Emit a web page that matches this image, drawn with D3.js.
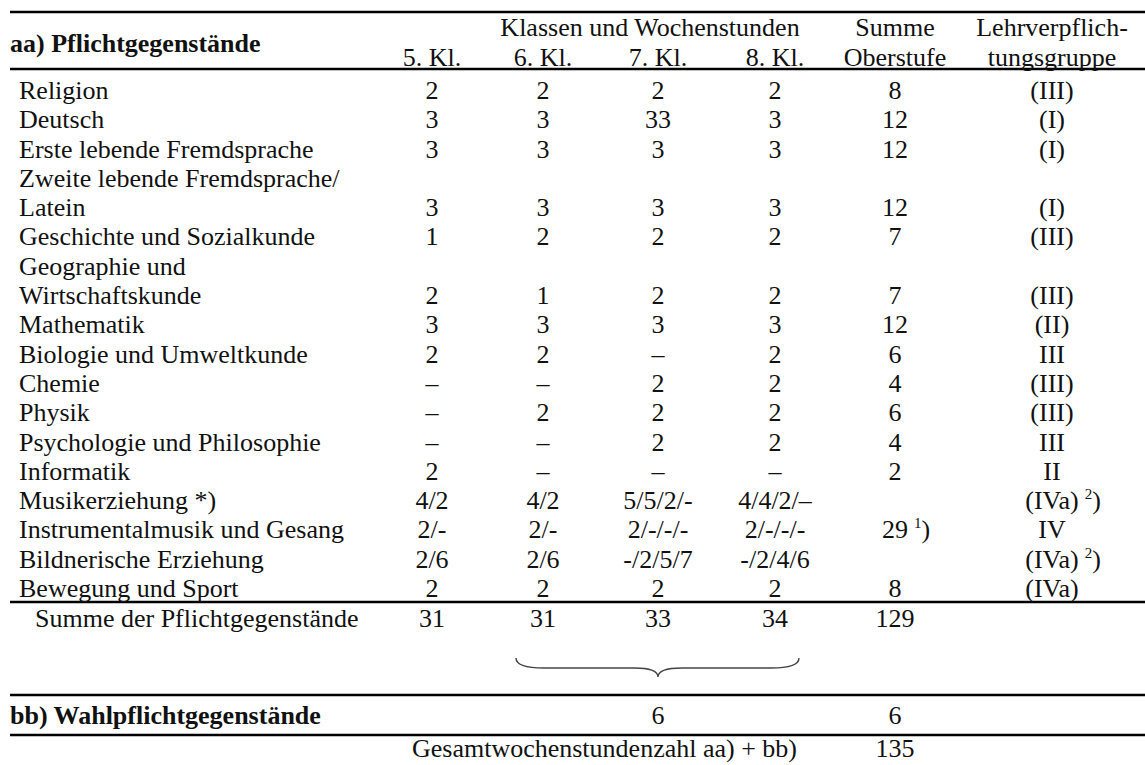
<!DOCTYPE html>
<html>
<head>
<meta charset="utf-8">
<script src="https://cdn.jsdelivr.net/npm/d3@7"></script>
<style>
  body { margin: 0; background: #fff; }
  text { font-family: "Liberation Serif", "Times New Roman", serif; font-size: 26px; fill: #111; }
  .bold { font-weight: bold; }
  .rule { stroke: #000; stroke-width: 2.5; }
</style>
</head>
<body>
<svg id="tabelle" width="1145" height="765"></svg>
<script>
/* global d3 */

// Daten der Stundentafel (Oberstufe)
var faecher = ["Religion", "Deutsch", "Erste lebende Fremdsprache", "Zweite lebende Fremdsprache/",
    "Latein", "Geschichte und Sozialkunde", "Geographie und", "Wirtschaftskunde", "Mathematik",
    "Biologie und Umweltkunde", "Chemie", "Physik", "Psychologie und Philosophie", "Informatik",
    "Musikerziehung *)", "Instrumentalmusik und Gesang", "Bildnerische Erziehung", "Bewegung und Sport"];
var kl5 = ["2", "3", "3", "", "3", "1", "", "2", "3", "2", "–", "–", "–", "2", "4/2", "2/-", "2/6", "2"];
var kl6 = ["2", "3", "3", "", "3", "2", "", "1", "3", "2", "–", "2", "–", "–", "4/2", "2/-", "2/6", "2"];
var kl7 = ["2", "33", "3", "", "3", "2", "", "2", "3", "–", "2", "2", "2", "–", "5/5/2/-", "2/-/-/-", "-/2/5/7", "2"];
var kl8 = ["2", "3", "3", "", "3", "2", "", "2", "3", "2", "2", "2", "2", "–", "4/4/2/–", "2/-/-/-", "-/2/4/6", "2"];
var summe = ["8", "12", "12", "", "12", "7", "", "7", "12", "6", "4", "6", "4", "2", "", "29", "", "8"];
var lehr = ["(III)", "(I)", "(I)", "", "(I)", "(III)", "", "(III)", "(II)", "III", "(III)", "(III)", "III", "II",
    "(IVa)", "IV", "(IVa)", "(IVa)"];
var fnSumme = ["", "", "", "", "", "", "", "", "", "", "", "", "", "", "", "1", "", ""];
var fnLehr = ["", "", "", "", "", "", "", "", "", "", "", "", "", "", "2", "", "2", ""];

var kopfKlassen = ["5. Kl.", "6. Kl.", "7. Kl.", "8. Kl."];
var summePflicht = ["31", "31", "33", "34", "129"];
var wahlpflicht = ["", "", "6", "", "6"];
var gesamt = "135";

var svg = d3.select("#tabelle");

var spalten = ["kl5", "kl6", "kl7", "kl8", "summe", "lehr"];
var x = d3.scaleOrdinal().domain(spalten).range([432, 543, 658, 775, 895, 1052]);
var y = d3.scaleLinear().domain([0, faecher.length - 1]).range([99, 597]);

var werte = { kl5: kl5, kl6: kl6, kl7: kl7, kl8: kl8, summe: summe, lehr: lehr };
var fussnoten = { summe: fnSumme, lehr: fnLehr };

// Linien
var linien = [12, 69, 602, 695, 735];
svg.selectAll(".rule")
    .data(linien)
    .enter().append("line")
    .attr("class", "rule")
    .attr("x1", 10)
    .attr("x2", 1145)
    .attr("y1", function (d) { return d; })
    .attr("y2", function (d) { return d; });

// Kopfzeile
svg.append("text").attr("class", "bold").attr("x", 10).attr("y", 52).text("aa) Pflichtgegenstände");
svg.append("text").attr("x", 650).attr("y", 36).attr("text-anchor", "middle").text("Klassen und Wochenstunden");
svg.selectAll(".kopf")
    .data(kopfKlassen)
    .enter().append("text")
    .attr("class", "kopf")
    .attr("x", function (d, i) { return x(spalten[i]); })
    .attr("y", 66)
    .attr("text-anchor", "middle")
    .text(function (d) { return d; });
svg.append("text").attr("x", x("summe")).attr("y", 36).attr("text-anchor", "middle").text("Summe");
svg.append("text").attr("x", x("summe")).attr("y", 66).attr("text-anchor", "middle").text("Oberstufe");
svg.append("text").attr("x", x("lehr")).attr("y", 36).attr("text-anchor", "middle").text("Lehrverpflich-");
svg.append("text").attr("x", x("lehr")).attr("y", 66).attr("text-anchor", "middle").text("tungsgruppe");

// Fächer
svg.selectAll(".fach")
    .data(faecher)
    .enter().append("text")
    .attr("class", "fach")
    .attr("x", 19)
    .attr("y", function (d, i) { return y(i); })
    .text(function (d) { return d; });

// Werte je Spalte
spalten.forEach(function (s) {
    var g = svg.append("g").attr("class", "spalte-" + s);
    g.selectAll("text")
        .data(werte[s])
        .enter().append("text")
        .attr("x", x(s))
        .attr("y", function (d, i) { return y(i); })
        .attr("text-anchor", "middle")
        .text(function (d) { return d; })
        .each(function (d, i) {
            var fn = fussnoten[s] ? fussnoten[s][i] : "";
            if (!fn) return;
            var box = this.getBBox();
            var t = svg.append("text")
                .attr("x", box.x + box.width + 6)
                .attr("y", y(i));
            t.append("tspan").attr("dy", -10).style("font-size", "15px").text(fn);
            t.append("tspan").attr("dy", 10).text(")");
        });
});

// Summe der Pflichtgegenstände
svg.append("text").attr("x", 35).attr("y", 627).text("Summe der Pflichtgegenstände");
svg.selectAll(".summe")
    .data(summePflicht)
    .enter().append("text")
    .attr("class", "summe")
    .attr("x", function (d, i) { return x(spalten[i]); })
    .attr("y", 627)
    .attr("text-anchor", "middle")
    .text(function (d) { return d; });

// geschweifte Klammer unter 6.-8. Kl.
var bx1 = x("kl6") - 27, bx2 = x("kl8") + 24, bm = x("kl7");
var p = d3.path();
p.moveTo(bx1, 658);
p.quadraticCurveTo(bx1, 668, bx1 + 28, 668);
p.lineTo(bm - 24, 668);
p.quadraticCurveTo(bm, 668, bm, 677);
p.quadraticCurveTo(bm, 668, bm + 24, 668);
p.lineTo(bx2 - 28, 668);
p.quadraticCurveTo(bx2, 668, bx2, 658);
svg.append("path")
    .attr("d", p.toString())
    .attr("fill", "none")
    .attr("stroke", "#444")
    .attr("stroke-width", 1.4);

// Wahlpflichtgegenstände
svg.append("text").attr("class", "bold").attr("x", 10).attr("y", 724).text("bb) Wahlpflichtgegenstände");
svg.selectAll(".wahl")
    .data(wahlpflicht)
    .enter().append("text")
    .attr("class", "wahl")
    .attr("x", function (d, i) { return x(spalten[i]); })
    .attr("y", 724)
    .attr("text-anchor", "middle")
    .text(function (d) { return d; });

// Gesamtwochenstundenzahl
svg.append("text").attr("x", 797).attr("y", 757).attr("text-anchor", "end").text("Gesamtwochenstundenzahl aa) + bb)");
svg.append("text").attr("x", x("summe")).attr("y", 757).attr("text-anchor", "middle").text(gesamt);
</script>
</body>
</html>
